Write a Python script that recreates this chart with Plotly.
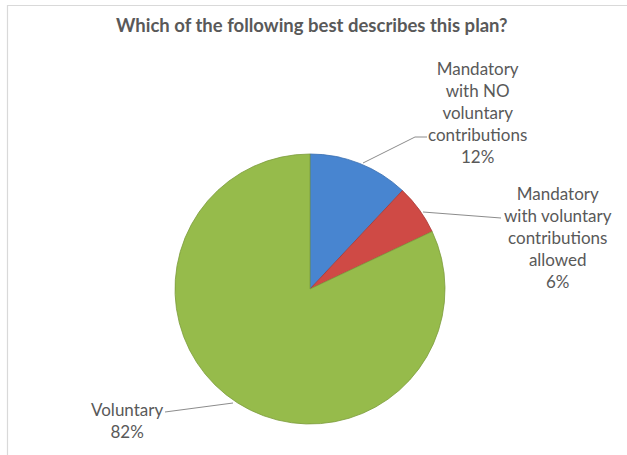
import plotly.graph_objects as go

# Survey answers and their shares (percent)
categories = [
    "Mandatory with NO voluntary contributions",
    "Mandatory with voluntary contributions allowed",
    "Voluntary",
]
label_lines = [
    ["Mandatory", "with NO", "voluntary", "contributions"],
    ["Mandatory", "with voluntary", "contributions", "allowed"],
    ["Voluntary"],
]
shares = [12, 6, 82]
colors = ["#4885d0", "#cf4a45", "#96bb4b"]
edge_colors = ["#3a6fb0", "#a83a36", "#7c9c3c"]

W, H = 627, 455
cx, cy, r = 310, 289, 135  # pie centre / radius in pixels


def px(x):
    return x / W


def py(y):
    return 1 - y / H


fig = go.Figure(
    go.Pie(
        labels=categories,
        values=shares,
        sort=False,
        direction="clockwise",
        rotation=0,
        textinfo="none",
        hoverinfo="label+percent",
        marker=dict(colors=colors, line=dict(color=edge_colors, width=0.8)),
        domain=dict(x=[px(cx - r), px(cx + r)], y=[py(cy + r), py(cy - r)]),
        showlegend=False,
    )
)

font = dict(family="Lato, Carlito, Liberation Sans, sans-serif", size=17, color="#595959")

# Label text positions (centre of the text block) and leader-line paths
label_pos = [(477, 112), (558, 237), (127, 420)]
leaders = [
    [(363, 163), (415, 137), (427, 137)],
    [(423, 212), (501, 218)],
    [(233, 403), (165, 412)],
]

annotations = []
for lines, val, (lx, ly) in zip(label_lines, shares, label_pos):
    text = "<br>".join(lines + [f"{val}%"])
    annotations.append(
        dict(
            x=px(lx), y=py(ly), xref="paper", yref="paper",
            text=text, showarrow=False, align="center",
            xanchor="center", yanchor="middle", font=font,
        )
    )

annotations.append(
    dict(
        x=px(312), y=py(25), xref="paper", yref="paper",
        text="<b>Which of the following best describes this plan?</b>",
        showarrow=False, xanchor="center", yanchor="middle",
        font=dict(family="Lato, Carlito, Liberation Sans, sans-serif", size=18.5, color="#595959"),
    )
)

shapes = []
for path in leaders:
    d = "M " + " L ".join(f"{px(x)},{py(y)}" for x, y in path)
    shapes.append(
        dict(type="path", path=d, xref="paper", yref="paper",
             line=dict(color="#8c8c8c", width=1))
    )

# chart area border (top and left edges visible)
shapes.append(dict(type="line", xref="paper", yref="paper",
                   x0=px(7), y0=py(5.5), x1=1.01, y1=py(5.5),
                   line=dict(color="#d9d9d9", width=1.2)))
shapes.append(dict(type="line", xref="paper", yref="paper",
                   x0=px(7.5), y0=py(5), x1=px(7.5), y1=-0.01,
                   line=dict(color="#d9d9d9", width=1.2)))

fig.update_layout(
    width=W, height=H,
    margin=dict(l=0, r=0, t=0, b=0),
    paper_bgcolor="white", plot_bgcolor="white",
    annotations=annotations, shapes=shapes,
)

fig.write_html("out.html")
